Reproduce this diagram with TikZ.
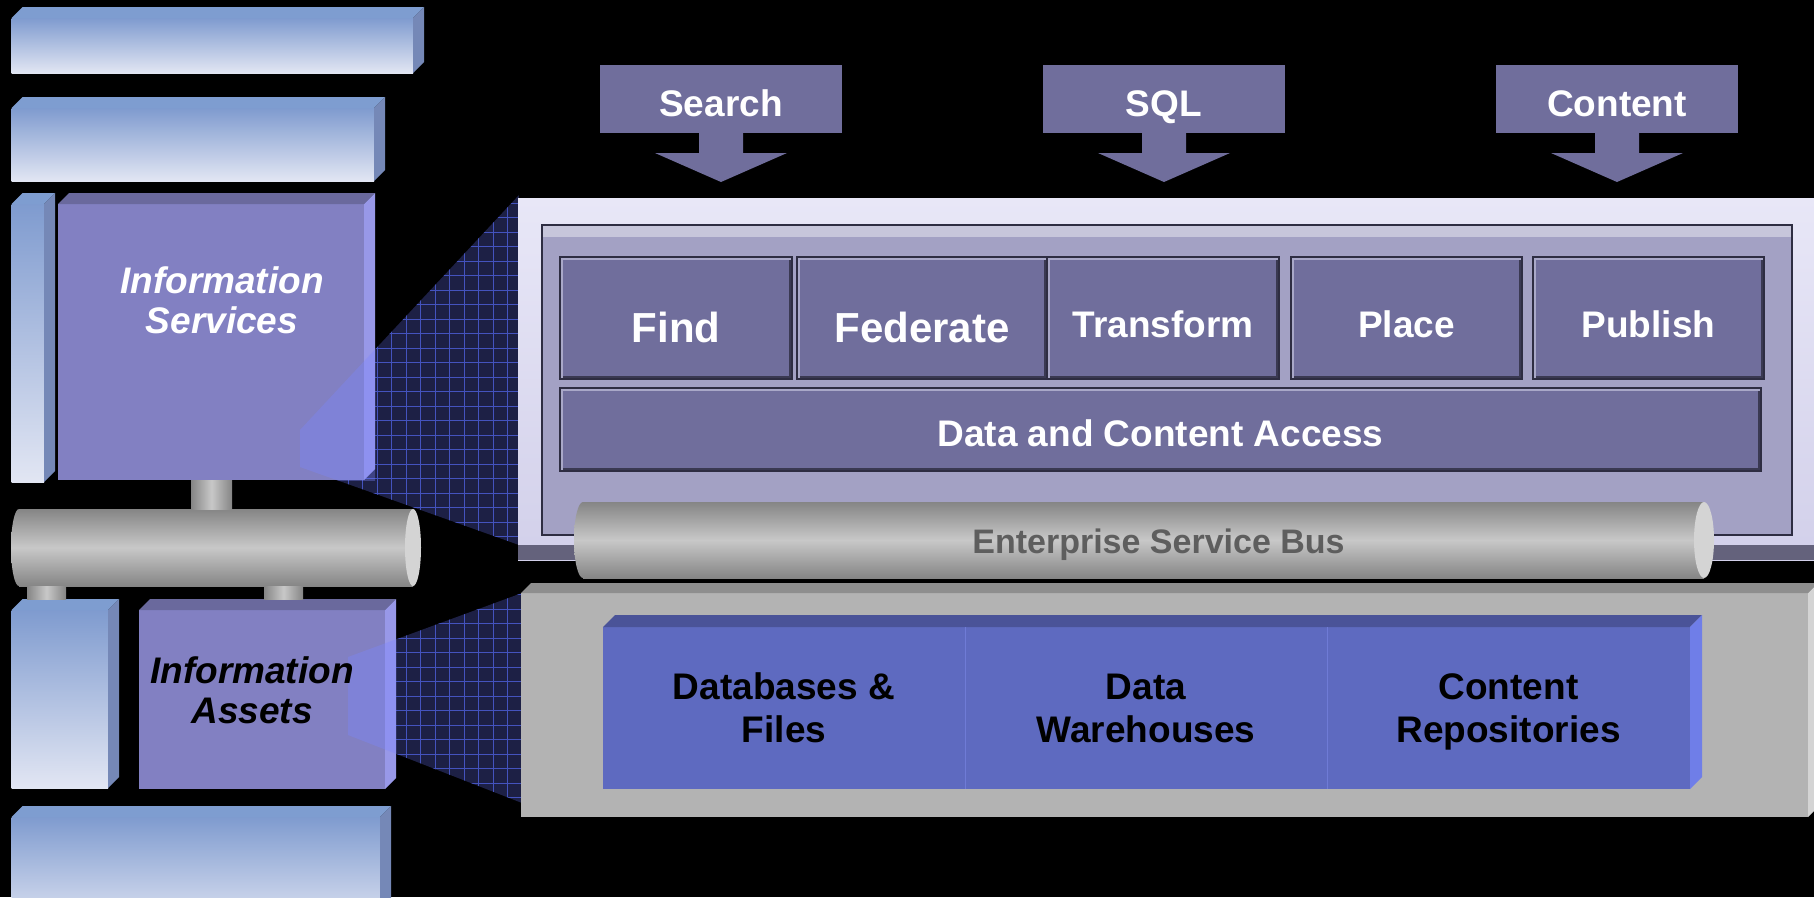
\documentclass[tikz,border=0pt]{standalone}
\usepackage{fontspec}
\setmainfont{Liberation Sans}
\usetikzlibrary{positioning}
\definecolor{barblue}{HTML}{7F9BCF}
\definecolor{barwhite}{HTML}{E2E6F3}
\definecolor{bartop}{HTML}{7E9DD0}
\definecolor{barside}{HTML}{7588B7}
\definecolor{infofront}{HTML}{8280C2}
\definecolor{infotop}{HTML}{6A699D}
\definecolor{infoside}{HTML}{9898E8}
\definecolor{busdark}{HTML}{858585}
\definecolor{buslight}{HTML}{C8C8C8}
\definecolor{buscap}{HTML}{D4D4D4}
\definecolor{tilefill}{HTML}{706E9C}
\definecolor{tileedge}{HTML}{2E2D42}
\definecolor{tileshade}{HTML}{3A3952}
\definecolor{tilelight}{HTML}{A9A8C8}
\definecolor{frametop}{HTML}{E8E7F7}
\definecolor{framebottom}{HTML}{D2D0EA}
\definecolor{frameedge}{HTML}{64627C}
\definecolor{panelfill}{HTML}{A3A1C4}
\definecolor{panellight}{HTML}{C7C6DB}
\definecolor{gridbg}{HTML}{1D2045}
\definecolor{gridline}{HTML}{4453BE}
\definecolor{glow}{HTML}{7C86FF}
\definecolor{storefill}{HTML}{B3B3B3}
\definecolor{storetop}{HTML}{8E8E8E}
\definecolor{storeside}{HTML}{D4D4D4}
\definecolor{repofill}{HTML}{5E6AC0}
\definecolor{repotop}{HTML}{4A5398}
\definecolor{reposide}{HTML}{6F7EE8}
\definecolor{repoline}{HTML}{6F7BD6}
\definecolor{esbtext}{HTML}{5E5E5E}
\newcommand{\boxsides}[5]{%
  \fill[#3] (#1.north west) -- ++(#5,-#5) -- ([shift={(#5,-#5)}]#2.north east) -- (#2.north east) -- cycle;
  \fill[#4] (#2.north east) -- ++(#5,-#5) -- ([shift={(#5,-#5)}]#2.south east) -- (#2.south east) -- cycle;}

\begin{document}
\begin{tikzpicture}[x=1pt,y=-1pt,
  bar/.style={rectangle,inner sep=0pt,outer sep=0pt,top color=barblue,bottom color=barwhite},
  infobox/.style={rectangle,inner sep=0pt,outer sep=0pt,fill=infofront},
  infotext/.style={align=center,font=\fontsize{37}{40}\selectfont\bfseries\itshape},
  busshade/.style={top color=busdark,bottom color=busdark,middle color=buslight},
  bus/.style={busshade,rectangle,inner sep=0pt,outer sep=0pt},
  pipe/.style={left color=busdark,right color=busdark,middle color=buslight},
  busend/.style={fill=buscap},
  callout/.style={rectangle,inner sep=0pt,outer sep=0pt,fill=tilefill,text=white,minimum width=242pt,minimum height=68pt,
    text height=34.6pt,text depth=0pt,font=\fontsize{37}{40}\selectfont\bfseries},
  tile/.style={rectangle,inner sep=0pt,outer sep=0pt,fill=tilefill,draw=tileedge,line width=1.5pt,text=white,minimum height=122pt,
    text height=38.6pt,text depth=0pt,font=\fontsize{37}{40}\selectfont\bfseries,
    path picture={
      \draw[tileshade,line width=6pt] (path picture bounding box.south west) -- (path picture bounding box.south east) -- (path picture bounding box.north east);
      \draw[tilelight,line width=5pt] (path picture bounding box.south west) -- (path picture bounding box.north west) -- (path picture bounding box.north east);}},
  bigtile/.style={tile,text height=48pt,font=\fontsize{42}{46}\selectfont\bfseries},
  frame/.style={rectangle,inner sep=0pt,outer sep=0pt,top color=frametop,bottom color=framebottom,
    path picture={\fill[frameedge] ([yshift=15pt]path picture bounding box.south west) rectangle (path picture bounding box.south east);}},
  panel/.style={rectangle,inner sep=0pt,outer sep=0pt,fill=panelfill,draw=tileedge,line width=2pt,
    path picture={\fill[panellight] (path picture bounding box.north west) rectangle ([yshift=-12pt]path picture bounding box.north east);}},
  store/.style={rectangle,inner sep=0pt,outer sep=0pt,fill=storefill},
  repo/.style={rectangle,inner sep=0pt,outer sep=0pt,fill=repofill,align=center,minimum height=162pt,text depth=0pt,font=\fontsize{37}{43}\selectfont\bfseries},
  droparrow/.style={fill=tilefill}]

  \useasboundingbox (0,0) rectangle (1814,897);
  \fill[black] (0,0) rectangle (1814,897);
  \clip (0,0) rectangle (1814,897);

  \coordinate (up1) at (300,430);
  \coordinate (up2) at (519,195);
  \coordinate (up3) at (519,545);
  \coordinate (up4) at (300,467);
  \coordinate (lo1) at (348,657);
  \coordinate (lo2) at (522,593);
  \coordinate (lo3) at (522,803);
  \coordinate (lo4) at (348,735);
  \begin{scope}
    \clip (up1) -- (up2) -- (up3) -- (up4) -- cycle;
    \fill[gridbg] (up1 |- up3) rectangle (up2);
    \draw[gridline,line width=0.6pt,xstep=14.5pt,ystep=14.5pt] (up1 |- up3) grid (up2);
  \end{scope}
  \begin{scope}
    \clip (lo1) -- (lo2) -- (lo3) -- (lo4) -- cycle;
    \fill[gridbg] (lo1 |- lo3) rectangle (lo2);
    \draw[gridline,line width=0.6pt,xstep=14.5pt,ystep=14.5pt] (lo1 |- lo3) grid (lo2);
  \end{scope}

  \node[bar,minimum width=401.5pt,minimum height=55pt] (bar1) at (212.25,45.5) {};
  \boxsides{bar1}{bar1}{bartop}{barside}{11}
  \node[bar,minimum width=362.5pt,minimum height=73pt] (bar2) at (192.75,144.5) {};
  \boxsides{bar2}{bar2}{bartop}{barside}{11}
  \node[bar,minimum width=32.5pt,minimum height=278pt] (bar3) at (27.75,343) {};
  \boxsides{bar3}{bar3}{bartop}{barside}{11}
  \node[infobox,minimum width=306pt,minimum height=276pt] (svc) at (211,342) {};
  \boxsides{svc}{svc}{infotop}{infoside}{11}
  \begin{scope}
    \clip (svc.south west) rectangle ([xshift=11pt]svc.north east);
    \fill[glow,opacity=.35] (up1) -- (up2) -- (up3) -- (up4) -- cycle;
  \end{scope}
  \node[infotext,text=white] (svctext) at ([shift={(11,-42)}]svc.center) {Information\\Services};

  \node[bus,minimum width=394pt,minimum height=77pt] (lbus) at (216,547.5) {};
  \shade[busshade] (lbus.west) ellipse [x radius=8pt,y radius=38.5pt];
  \fill[busend] (lbus.east) ellipse [x radius=8pt,y radius=38.5pt];

  \node[bar,minimum width=96.5pt,minimum height=178pt] (bar4) at (59.75,699) {};
  \boxsides{bar4}{bar4}{bartop}{barside}{11}
  \node[infobox,minimum width=246pt,minimum height=179pt] (assets) at (262,699.5) {};
  \boxsides{assets}{assets}{infotop}{infoside}{11}
  \begin{scope}
    \clip (assets.south west) rectangle ([xshift=11pt]assets.north east);
    \fill[glow,opacity=.35] (lo1) -- (lo2) -- (lo3) -- (lo4) -- cycle;
  \end{scope}
  \node[infotext,text=black] (assetstext) at ([shift={(-10,-9.5)}]assets.center) {Information\\Assets};
  \node[bar,minimum width=368.5pt,minimum height=113pt] (bar5) at (195.75,873.5) {};
  \boxsides{bar5}{bar5}{bartop}{barside}{11}

  \coordinate (pa) at ([xshift=-20pt]svc.south);
  \coordinate (pb) at ([xshift=21pt]svc.south);
  \shade[pipe] (pa) rectangle (pb |- lbus.north);
  \coordinate (pc) at ([xshift=8pt]lbus.south west);
  \coordinate (pd) at ([xshift=47pt]lbus.south west);
  \shade[pipe] (pc) rectangle ([yshift=11pt]pd |- bar4.north);
  \coordinate (pe) at ([xshift=245pt]lbus.south west);
  \coordinate (pf) at ([xshift=284pt]lbus.south west);
  \shade[pipe] (pe) rectangle ([yshift=11pt]pf |- assets.north);

  \node[frame,minimum width=1312pt,minimum height=362pt] (core) at (1174,379) {};
  \node[panel,minimum width=1250pt,minimum height=310pt] (corein) at (1167,380) {};
  \node[bigtile,minimum width=232pt] (find) at (676,318) {Find};
  \node[bigtile,minimum width=250pt,right=5pt of find] (federate) {Federate};
  \node[tile,minimum width=232pt,right=0pt of federate] (transform) {Transform};
  \node[tile,minimum width=231pt,right=12pt of transform] (place) {Place};
  \node[tile,minimum width=231pt,right=11pt of place] (publish) {Publish};
  \node[tile,minimum width=1201pt,minimum height=83pt,text height=33.6pt] (access) at (1160.5,429.5) {Data and Content Access};

  \node[bus,minimum width=1121pt,minimum height=76pt,text=esbtext,text height=27.4pt,text depth=0pt,font=\fontsize{34}{38}\selectfont\bfseries] (esb) at (1143.5,540) {\hspace*{30pt}Enterprise Service Bus};
  \shade[busshade] (esb.west) ellipse [x radius=9pt,y radius=38pt];
  \fill[busend] (esb.east) ellipse [x radius=10pt,y radius=38pt];

  \node[callout] (search) at (721,99) {Search};
  \node[callout,right=201pt of search] (sql) {SQL};
  \node[callout,right=211pt of sql] (content) {Content};
  \fill[droparrow] ([xshift=-22pt]search.south) -- ++(0,20) -- ++(-44,0) -- ++(66,29) -- ++(66,-29) -- ++(-44,0) -- ++(0,-20) -- cycle;
  \fill[droparrow] ([xshift=-22pt]sql.south) -- ++(0,20) -- ++(-44,0) -- ++(66,29) -- ++(66,-29) -- ++(-44,0) -- ++(0,-20) -- cycle;
  \fill[droparrow] ([xshift=-22pt]content.south) -- ++(0,20) -- ++(-44,0) -- ++(66,29) -- ++(66,-29) -- ++(-44,0) -- ++(0,-20) -- cycle;

  \node[store,minimum width=1287pt,minimum height=224pt] (store) at (1164.5,705) {};
  \boxsides{store}{store}{storetop}{storeside}{10}
  \node[repo,minimum width=362pt] (dbs) at (784,708) {Databases \&\\Files};
  \node[repo,minimum width=362pt,right=0pt of dbs] (dwh) {Data\\Warehouses};
  \node[repo,minimum width=363pt,right=0pt of dwh] (crep) {Content\\Repositories};
  \boxsides{dbs}{crep}{repotop}{reposide}{12}
  \draw[repoline] (dbs.north east) -- (dbs.south east);
  \draw[repoline] (dwh.north east) -- (dwh.south east);
\end{tikzpicture}
\end{document}
